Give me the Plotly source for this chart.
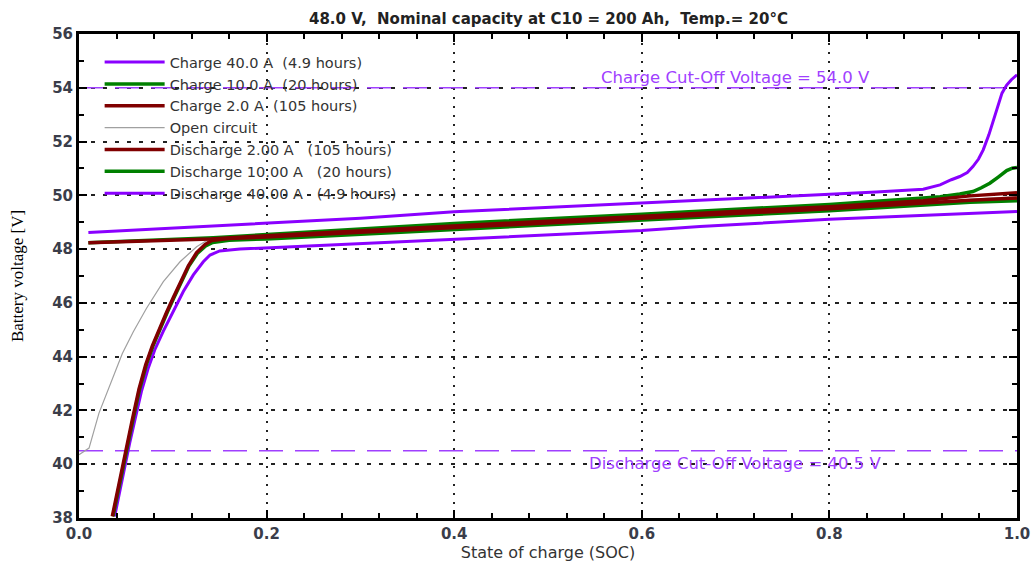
import plotly.graph_objects as go

# ---------------- data ----------------
title_text = "48.0 V,  Nominal capacity at C10 = 200 Ah,  Temp.= 20°C"

soc_ch40 = [0.01, 0.1, 0.2, 0.3, 0.4, 0.5, 0.6, 0.7, 0.8, 0.85, 0.9, 0.918, 0.93, 0.939, 0.947, 0.953, 0.959, 0.964, 0.97, 0.975, 0.98, 0.984, 0.989, 0.994, 1.0]
v_ch40 = [48.62, 48.79, 48.96, 49.15, 49.39, 49.55, 49.70, 49.87, 50.04, 50.12, 50.23, 50.39, 50.58, 50.70, 50.85, 51.07, 51.35, 51.69, 52.25, 52.80, 53.35, 53.80, 54.10, 54.30, 54.48]

soc_ch10 = [0.01, 0.143, 0.214, 0.4, 0.6, 0.8, 0.9, 0.918, 0.939, 0.953, 0.962, 0.971, 0.98, 0.989, 0.995, 1.0]
v_ch10 = [48.24, 48.42, 48.57, 48.95, 49.30, 49.66, 49.90, 49.95, 50.05, 50.14, 50.28, 50.45, 50.68, 50.92, 51.01, 51.04]

soc_ch2 = [0.01, 0.14, 0.2, 0.4, 0.6, 0.8, 0.9, 0.95, 1.0]
v_ch2 = [48.24, 48.38, 48.50, 48.86, 49.21, 49.58, 49.80, 49.98, 50.10]

soc_oc = [0.0, 0.0107, 0.0213, 0.0338, 0.0462, 0.0579, 0.072, 0.0899, 0.1077, 0.1254, 0.14, 0.2, 0.4, 0.6, 0.8, 1.0]
v_oc = [40.35, 40.6, 41.9, 43.0, 44.12, 44.93, 45.8, 46.79, 47.53, 48.09, 48.4, 48.47, 48.83, 49.18, 49.54, 49.95]

soc_dis2 = [0.0355, 0.0462, 0.0515, 0.0568, 0.064, 0.0711, 0.0782, 0.0846, 0.0934, 0.1006, 0.1077, 0.1166, 0.1254, 0.1343, 0.1415, 0.16, 0.2, 0.4, 0.6, 0.8, 0.95, 1.0]
v_dis2 = [38.06, 39.92, 40.80, 41.65, 42.80, 43.70, 44.40, 44.95, 45.65, 46.20, 46.75, 47.38, 47.87, 48.17, 48.32, 48.39, 48.45, 48.80, 49.15, 49.50, 49.82, 49.90]

soc_dis10 = [0.0362, 0.0469, 0.0522, 0.0575, 0.0647, 0.0718, 0.0789, 0.0853, 0.0941, 0.1013, 0.1084, 0.1173, 0.1261, 0.135, 0.1425, 0.16, 0.2, 0.4, 0.6, 0.8, 0.95, 1.0]
v_dis10 = [38.06, 39.92, 40.80, 41.65, 42.80, 43.70, 44.40, 44.95, 45.65, 46.20, 46.75, 47.38, 47.84, 48.12, 48.25, 48.33, 48.38, 48.74, 49.08, 49.43, 49.74, 49.80]

soc_dis40 = [0.038, 0.0487, 0.054, 0.0593, 0.0665, 0.0736, 0.0807, 0.0899, 0.1006, 0.1112, 0.1219, 0.1325, 0.1397, 0.150, 0.1716, 0.214, 0.4, 0.6, 0.662, 0.8, 1.0]
v_dis40 = [38.06, 39.92, 40.78, 41.60, 42.70, 43.55, 44.25, 44.95, 45.70, 46.42, 47.04, 47.53, 47.78, 47.93, 48.0, 48.07, 48.37, 48.69, 48.84, 49.11, 49.40]

charge_cutoff = 54.0
discharge_cutoff = 40.5

x_ticks = [0.0, 0.2, 0.4, 0.6, 0.8, 1.0]
x_ticklabels = ["0.0", "0.2", "0.4", "0.6", "0.8", "1.0"]
y_ticks = [38, 40, 42, 44, 46, 48, 50, 52, 54, 56]

# ---------------- style ----------------
PURPLE = "#8a00ff"
GREEN = "#008000"
DRED = "#800000"
GRAY = "#a0a0a0"
CUT = "#a040ff"
SANS = "DejaVu Sans, Verdana, sans-serif"

fig = go.Figure()

def add(x, y, name, color, width, rank):
    fig.add_trace(go.Scatter(x=x, y=y, mode="lines", name=name,
                             line=dict(color=color, width=width),
                             legendrank=rank))

# cutoff lines (no legend)
fig.add_trace(go.Scatter(x=[0, 1], y=[charge_cutoff, charge_cutoff], mode="lines",
                         line=dict(color=CUT, width=1.5, dash="24px,12px"), showlegend=False, hoverinfo="skip"))
fig.add_trace(go.Scatter(x=[0, 1], y=[discharge_cutoff, discharge_cutoff], mode="lines",
                         line=dict(color=CUT, width=1.5, dash="24px,12px"), showlegend=False, hoverinfo="skip"))

add(soc_ch40, v_ch40, "Charge 40.0 A  (4.9 hours)", PURPLE, 3, 1)
add(soc_dis40, v_dis40, "Discharge 40.00 A   (4.9 hours)", PURPLE, 3, 7)
add(soc_ch10, v_ch10, "Charge 10.0 A  (20 hours)", GREEN, 3.5, 2)
add(soc_dis10, v_dis10, "Discharge 10.00 A   (20 hours)", GREEN, 3.5, 6)
add(soc_oc, v_oc, "Open circuit", GRAY, 1.2, 4)
add(soc_ch2, v_ch2, "Charge 2.0 A  (105 hours)", DRED, 3.5, 3)
add(soc_dis2, v_dis2, "Discharge 2.00 A   (105 hours)", DRED, 3.5, 5)

axis_font = dict(family=SANS, size=15, color="#3a3d4a", weight="bold")

fig.update_xaxes(range=[0, 1], tickvals=x_ticks, ticktext=x_ticklabels, automargin=False,
                 showline=True, linecolor="black", linewidth=3, mirror="allticks",
                 ticks="inside", ticklen=8, tickwidth=1.5, tickcolor="black",
                 minor=dict(dtick=0.04, ticks="inside", ticklen=5, tickwidth=1.5, tickcolor="black", showgrid=False),
                 showgrid=True, gridcolor="#222222", gridwidth=1.5, griddash="2px,7px",
                 zeroline=False, tickfont=axis_font,
                 title=dict(text="State of charge (SOC)", standoff=4,
                            font=dict(family=SANS, size=16, color="#333333")))
fig.update_yaxes(range=[38, 56], tickvals=y_ticks, automargin=False,
                 showline=True, linecolor="black", linewidth=3, mirror="allticks",
                 ticks="inside", ticklen=8, tickwidth=1.5, tickcolor="black",
                 minor=dict(dtick=1, ticks="inside", ticklen=5, tickwidth=1.5, tickcolor="black", showgrid=False),
                 showgrid=True, gridcolor="#222222", gridwidth=1.5, griddash="4px,8px",
                 zeroline=False, tickfont=axis_font)

fig.add_annotation(x=0.7, y=charge_cutoff, yshift=10, text="Charge Cut-Off Voltage = 54.0 V",
                   showarrow=False, font=dict(family=SANS, size=16.5, color=CUT))
fig.add_annotation(x=0.7, y=discharge_cutoff, yshift=-13, text="Discharge Cut-Off Voltage = 40.5 V",
                   showarrow=False, font=dict(family=SANS, size=16.5, color=CUT))
fig.add_annotation(xref="paper", yref="paper", x=-0.066, y=0.5, text="Battery voltage [V]",
                   textangle=-90, showarrow=False, xanchor="center", yanchor="middle",
                   font=dict(family="Liberation Serif, Times New Roman", size=17, color="black"))
fig.add_annotation(xref="paper", yref="paper", x=0.5, y=1.031, text=title_text,
                   showarrow=False, xanchor="center", yanchor="middle",
                   font=dict(family=SANS, size=15, color="#222222", weight="bold"))

fig.update_layout(width=1035, height=565,
                  margin=dict(l=79, r=18, t=34, b=47),
                  paper_bgcolor="white", plot_bgcolor="white",
                  showlegend=True,
                  legend=dict(x=0.022, y=0.975, xanchor="left", yanchor="top",
                              bgcolor="rgba(0,0,0,0)", borderwidth=0,
                              font=dict(family=SANS, size=14.5, color="#333333"),
                              itemwidth=60, tracegroupgap=0))

fig.write_html("out.html", config={"displayModeBar": False},
               post_script="document.body.style.margin='0';")
